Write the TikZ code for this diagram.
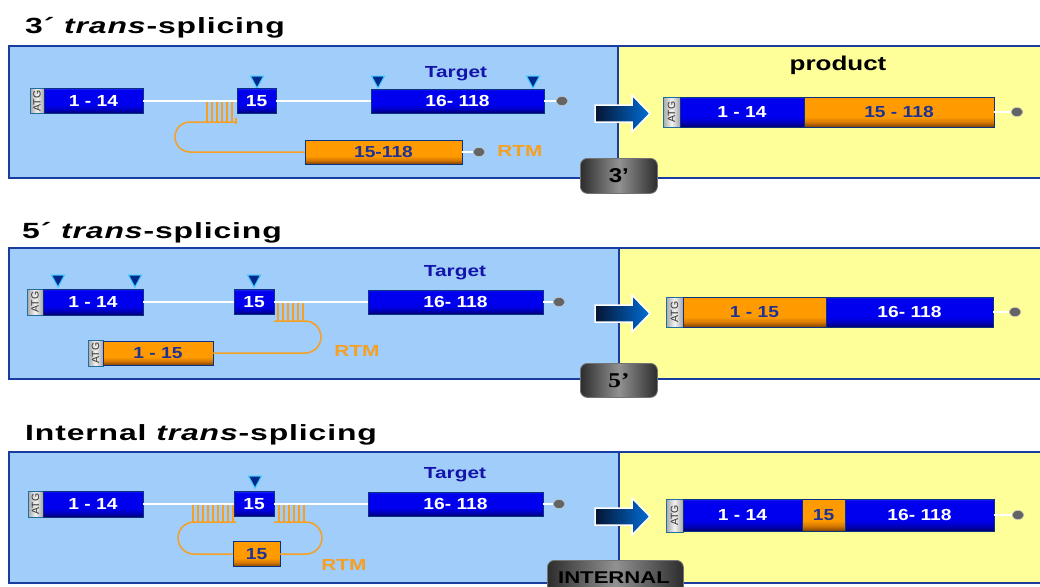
\documentclass[tikz,border=0pt]{standalone}
\usepackage{fontspec}
\setmainfont{Liberation Sans}
\newfontfamily\titlefont[FakeStretch=1.45,LetterSpace=4]{Liberation Sans}
\newfontfamily\wfont[FakeStretch=1.2]{Liberation Sans}
\newfontfamily\tfont[FakeStretch=1.3]{Liberation Sans}
\newfontfamily\wserif[FakeStretch=1.2]{Liberation Serif}
\usetikzlibrary{shapes.geometric}
\definecolor{panelblue}{RGB}{160,205,250}
\definecolor{panelyellow}{RGB}{255,255,153}
\definecolor{frame}{RGB}{25,60,160}
\definecolor{exonhi}{RGB}{0,0,238}
\definecolor{exonmid}{RGB}{0,0,190}
\definecolor{exonlo}{RGB}{0,0,110}
\definecolor{exontop}{RGB}{40,40,245}
\definecolor{exonedge}{RGB}{10,50,130}
\definecolor{orhi}{RGB}{255,155,0}
\definecolor{ormid}{RGB}{215,120,0}
\definecolor{orlo}{RGB}{125,65,0}
\definecolor{ortext}{RGB}{30,50,150}
\definecolor{loopcol}{RGB}{245,160,35}
\definecolor{targettext}{RGB}{20,20,170}
\definecolor{tricol}{RGB}{0,40,140}
\definecolor{triedge}{RGB}{60,200,255}
\definecolor{dotcol}{RGB}{100,100,100}
\definecolor{atgedge}{RGB}{30,110,160}
\definecolor{arrowL}{RGB}{5,20,50}
\definecolor{arrowR}{RGB}{0,110,215}
\definecolor{tabmid}{RGB}{145,145,145}
\definecolor{tabedge}{RGB}{45,45,45}
\pgfdeclareverticalshading{exonsh}{100bp}{color(0bp)=(exonlo); color(25bp)=(exonlo); color(33bp)=(exonmid); color(42bp)=(exonhi); color(72bp)=(exonhi); color(75bp)=(exontop); color(100bp)=(exontop)}
\pgfdeclareverticalshading{orsh}{100bp}{color(0bp)=(orlo); color(25bp)=(orlo); color(33bp)=(ormid); color(42bp)=(orhi); color(75bp)=(orhi); color(100bp)=(orhi)}
\tikzset{
  blk/.style={anchor=north west, inner sep=0pt, outer sep=0pt, line width=1pt},
  exon/.style={blk, draw=exonedge, shading=exonsh, text=white, font=\wfont\bfseries\fontsize{16}{16}\selectfont},
  orex/.style={blk, draw=exonedge, shading=orsh, text=ortext, font=\wfont\bfseries\fontsize{16}{16}\selectfont},
  atg/.style={blk, draw=atgedge, left color=gray!70, right color=gray!70, middle color=white!90!gray},
  atgtext/.style={rotate=90, inner sep=0pt, text=black!80, font=\fontsize{10.5}{10.5}\selectfont},
  wline/.style={draw=white, line width=1.5pt},
  loopline/.style={draw=loopcol, line width=1.5pt},
  dot/.style={ellipse, fill=dotcol, draw=gray!40, line width=0.5pt, minimum width=12pt, minimum height=9pt, inner sep=0pt},
  title/.style={anchor=base west, inner sep=0pt, font=\titlefont\bfseries\fontsize{22}{22}\selectfont},
  target/.style={inner sep=0pt, text=targettext, font=\tfont\bfseries\fontsize{16}{16}\selectfont},
  rtm/.style={inner sep=0pt, text=loopcol, font=\tfont\bfseries\fontsize{16}{16}\selectfont},
  tabbox/.style={anchor=north west, rounded corners=7pt, draw=black!55, line width=0.8pt, left color=tabedge, right color=tabedge, middle color=tabmid, text=black, inner sep=0pt},
  panelL/.style={fill=panelblue, draw=frame, line width=1.5pt},
  panelR/.style={fill=panelyellow, draw=frame, line width=1.5pt},
  tridown/.pic={\draw[fill=tricol, draw=triedge, line width=1pt] (-6.5,-12) -- (6.5,-12) -- (0,0) -- cycle;},
  bigarrow/.pic={\shade[left color=arrowL, right color=arrowR, draw=white, line width=1.5pt] (0,-8.5) -- (37,-8.5) -- (37,-18.5) -- (55,0) -- (37,18.5) -- (37,8.5) -- (0,8.5) -- cycle;}
}
\begin{document}
\begin{tikzpicture}[x=1pt,y=-1pt]
\useasboundingbox (0,0) rectangle (1040,586);
\clip (0,0) rectangle (1040,586);
\fill[white] (0,0) rectangle (1040,586);

% ================= Panel 1 : 3' trans-splicing =================
\node[title] (h1) at (25,34) {3´ \textit{trans}-splicing};
\draw[panelL] (9,46) rectangle (618,178);
\draw[panelR] (618,46) rectangle (1050,178);

\node[target] (tg1) at (456,74) {Target};
\pic at (257,88) {tridown};
\pic at (378,88) {tridown};
\pic at (533,88) {tridown};

\node[atg, minimum width=14pt, minimum height=25pt] (a1) at (30,88.5) {};
\node[atgtext] (a1t) at (a1.center) {ATG};
\node[exon, minimum width=99pt, minimum height=25pt] (e1a) at (44,88.5) {1 - 14};
\node[exon, minimum width=39pt, minimum height=25pt] (e1b) at (237,88.5) {15};
\node[exon, minimum width=173pt, minimum height=24pt] (e1c) at (371,89) {16- 118};
\node[dot] (d1) at (562,101) {};
\draw[wline] (e1a.east) -- (e1b.west);
\draw[wline] (e1b.east) -- (e1c.west);
\draw[wline] (e1c.east) -- (d1.west);

\foreach \x in {207,212,217,222,227,232} \draw[loopline] (\x,102) -- (\x,122);
\draw[loopline] (236,118) -- (236,124);
\node[orex, minimum width=157pt, minimum height=24pt] (r1) at (305,140) {15-118};
\draw[loopline] (236,122) -- (190,122) arc (270:90:15) -- (r1.west);
\node[dot] (dr1) at (479,152) {};
\draw[wline] (r1.east) -- (dr1.west);
\node[rtm] (rt1) at (520,151) {RTM};

\pic at (595,113.5) {bigarrow};
\node[tabbox, minimum width=77pt, minimum height=35pt, font=\wfont\bfseries\fontsize{20}{20}\selectfont] (t1) at (580,158) {3’};

\node[inner sep=0pt, font=\tfont\bfseries\fontsize{20}{20}\selectfont] (pr) at (838,65) {product};
\node[atg, minimum width=17pt, minimum height=30pt] (p1a) at (663,97) {};
\node[atgtext] (p1at) at (p1a.center) {ATG};
\node[exon, minimum width=124pt, minimum height=30pt] (p1b) at (680,97) {1 - 14};
\node[orex, minimum width=190pt, minimum height=30pt] (p1c) at (804,97) {15 - 118};
\node[dot] (pd1) at (1017,112) {};
\draw[wline] (p1c.east) -- (pd1.west);

% ================= Panel 2 : 5' trans-splicing =================
\node[title] (h2) at (22,238) {5´ \textit{trans}-splicing};
\draw[panelL] (9,248) rectangle (619,379);
\draw[panelR] (619,248) rectangle (1050,379);

\node[target] (tg2) at (455,273) {Target};
\pic at (58,287) {tridown};
\pic at (135,287) {tridown};
\pic at (254,287) {tridown};

\node[atg, minimum width=16pt, minimum height=26pt] (a2) at (27,289) {};
\node[atgtext] (a2t) at (a2.center) {ATG};
\node[exon, minimum width=100pt, minimum height=26pt] (e2a) at (43,289) {1 - 14};
\node[exon, minimum width=40pt, minimum height=25pt] (e2b) at (234,289.5) {15};
\node[exon, minimum width=175pt, minimum height=24pt] (e2c) at (368,290) {16- 118};
\node[dot] (d2) at (559,302) {};
\draw[wline] (e2a.east) -- (e2b.west);
\draw[wline] (e2b.east) -- (e2c.west);
\draw[wline] (e2c.east) -- (d2.west);

\foreach \x in {278,283,288,293,298,303} \draw[loopline] (\x,303) -- (\x,321);
\node[atg, minimum width=15pt, minimum height=26pt] (r2a) at (88,340) {};
\node[atgtext] (r2at) at (r2a.center) {ATG};
\node[orex, minimum width=110pt, minimum height=24pt] (r2) at (103,341) {1 - 15};
\draw[loopline] (274,321) -- (305,321) arc (-90:90:16) -- (r2.east);
\node[rtm] (rt2) at (357,351) {RTM};

\pic at (595,313.5) {bigarrow};
\node[tabbox, minimum width=77pt, minimum height=34pt, font=\wserif\bfseries\fontsize{21}{21}\selectfont] (t2) at (580,363) {5’};

\node[atg, minimum width=17pt, minimum height=30pt] (p2a) at (666,297) {};
\node[atgtext] (p2at) at (p2a.center) {ATG};
\node[orex, minimum width=143pt, minimum height=30pt] (p2b) at (683,297) {1 - 15};
\node[exon, minimum width=167pt, minimum height=30pt] (p2c) at (826,297) {16- 118};
\node[dot] (pd2) at (1015,312) {};
\draw[wline] (p2c.east) -- (pd2.west);

% ================= Panel 3 : Internal trans-splicing =================
\node[title] (h3) at (25,440) {Internal \textit{trans}-splicing};
\draw[panelL] (9,452) rectangle (619,583);
\draw[panelR] (619,452) rectangle (1050,583);

\node[target] (tg3) at (455,475) {Target};
\pic at (255,488) {tridown};

\node[atg, minimum width=15pt, minimum height=26pt] (a3) at (28,491) {};
\node[atgtext] (a3t) at (a3.center) {ATG};
\node[exon, minimum width=100pt, minimum height=26pt] (e3a) at (43,491) {1 - 14};
\node[exon, minimum width=40pt, minimum height=25pt] (e3b) at (234,491.5) {15};
\node[exon, minimum width=175pt, minimum height=24pt] (e3c) at (368,492) {16- 118};
\node[dot] (d3) at (559,504) {};
\draw[wline] (e3a.east) -- (e3b.west);
\draw[wline] (e3b.east) -- (e3c.west);
\draw[wline] (e3c.east) -- (d3.west);

\foreach \x in {193,198,203,208,213,218,223,228,233} \draw[loopline] (\x,505) -- (\x,522);
\foreach \x in {279,284,289,294,299,304} \draw[loopline] (\x,505) -- (\x,522);
\node[orex, minimum width=47pt, minimum height=25pt] (r3) at (233,541.5) {15};
\draw[loopline] (236,522) -- (194,522) arc (270:90:16) -- (r3.west);
\draw[loopline] (r3.east) -- (306,554) arc (90:-90:16) -- (274,522);
\node[rtm] (rt3) at (344,565) {RTM};

\pic at (595,516.5) {bigarrow};
\node[tabbox, minimum width=136pt, minimum height=40pt, anchor=north west] (t3) at (547,560) {};
\node[inner sep=0pt, anchor=base, font=\tfont\bfseries\fontsize{17}{17}\selectfont] (t3t) at (614,583) {INTERNAL};

\node[atg, minimum width=17pt, minimum height=33pt] (p3a) at (666,499) {};
\node[atgtext] (p3at) at (p3a.center) {ATG};
\node[exon, minimum width=119pt, minimum height=32pt] (p3b) at (683,499) {1 - 14};
\node[orex, minimum width=43pt, minimum height=32pt] (p3c) at (802,499) {15};
\node[exon, minimum width=149pt, minimum height=32pt] (p3d) at (845,499) {16- 118};
\node[dot] (pd3) at (1018,515) {};
\draw[wline] (p3d.east) -- (pd3.west);
\end{tikzpicture}
\end{document}
